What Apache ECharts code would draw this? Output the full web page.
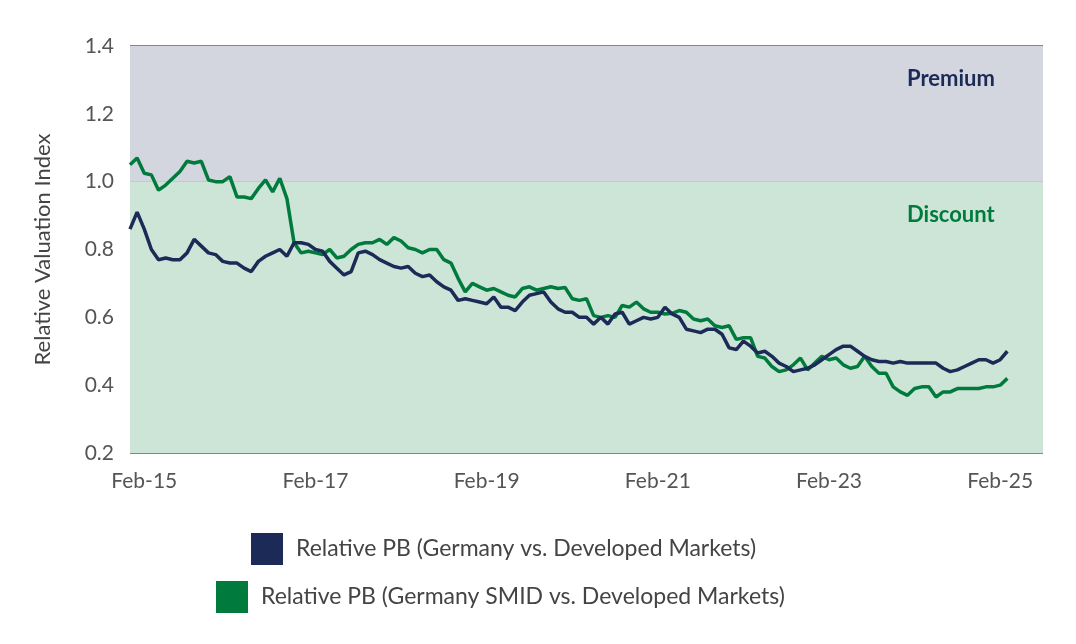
<!DOCTYPE html>
<html>
<head>
<meta charset="utf-8">
<script src="https://cdn.jsdelivr.net/npm/echarts@6/dist/echarts.min.js"></script>
<style>
html, body { margin: 0; padding: 0; background: #fff; }
#main { width: 1076px; height: 644px; }
</style>
</head>
<body>
<div id="main"></div>
<script>
// monthly, Dec-14 .. Mar-25 (data), axis runs on to Aug-25
var months = ['Jan','Feb','Mar','Apr','May','Jun','Jul','Aug','Sep','Oct','Nov','Dec'];
var categories = [];
for (var k = 11; k < 11 + 129; k++) {
  var yr = 14 + Math.floor(k / 12);
  categories.push(months[k % 12] + '-' + yr);
}

var germany = [
  0.86, 0.91, 0.86, 0.80, 0.77, 0.775, 0.77, 0.77, 0.79, 0.83, 0.81, 0.79,
  0.785, 0.765, 0.76, 0.76, 0.745, 0.735, 0.765, 0.78, 0.79, 0.80, 0.78, 0.82,
  0.82, 0.815, 0.80, 0.795, 0.765, 0.745, 0.725, 0.735, 0.79, 0.795, 0.785, 0.77,
  0.76, 0.75, 0.745, 0.75, 0.73, 0.72, 0.725, 0.705, 0.69, 0.68, 0.65, 0.655,
  0.65, 0.645, 0.64, 0.66, 0.63, 0.63, 0.62, 0.645, 0.665, 0.67, 0.675, 0.645,
  0.625, 0.615, 0.615, 0.60, 0.60, 0.58, 0.60, 0.58, 0.61, 0.615, 0.58, 0.59,
  0.60, 0.595, 0.60, 0.63, 0.61, 0.60, 0.565, 0.56, 0.555, 0.565, 0.565, 0.55,
  0.51, 0.505, 0.53, 0.515, 0.495, 0.50, 0.485, 0.465, 0.455, 0.44, 0.445, 0.45,
  0.46, 0.475, 0.49, 0.505, 0.515, 0.515, 0.50, 0.485, 0.475, 0.47, 0.47, 0.465,
  0.47, 0.465, 0.465, 0.465, 0.465, 0.465, 0.45, 0.44, 0.445, 0.455, 0.465, 0.475,
  0.475, 0.465, 0.475, 0.50
];

var germanySmid = [
  1.05, 1.07, 1.025, 1.02, 0.975, 0.99, 1.01, 1.03, 1.06, 1.055, 1.06, 1.005,
  1.0, 1.0, 1.015, 0.955, 0.955, 0.95, 0.98, 1.005, 0.97, 1.01, 0.95, 0.82,
  0.79, 0.795, 0.79, 0.785, 0.80, 0.775, 0.78, 0.80, 0.815, 0.82, 0.82, 0.83,
  0.815, 0.835, 0.825, 0.805, 0.80, 0.79, 0.80, 0.80, 0.77, 0.76, 0.715, 0.675,
  0.70, 0.69, 0.68, 0.685, 0.675, 0.665, 0.66, 0.685, 0.69, 0.68, 0.685, 0.69,
  0.685, 0.688, 0.655, 0.65, 0.655, 0.605, 0.60, 0.605, 0.60, 0.635, 0.63, 0.645,
  0.625, 0.615, 0.615, 0.61, 0.612, 0.62, 0.615, 0.595, 0.59, 0.595, 0.575, 0.57,
  0.575, 0.535, 0.54, 0.54, 0.485, 0.48, 0.455, 0.44, 0.445, 0.46, 0.48, 0.445,
  0.465, 0.485, 0.475, 0.48, 0.46, 0.45, 0.455, 0.485, 0.455, 0.435, 0.435, 0.395,
  0.38, 0.37, 0.39, 0.395, 0.395, 0.365, 0.38, 0.38, 0.39, 0.39, 0.39, 0.39,
  0.395, 0.395, 0.40, 0.42
];

var yTicks = [0.2, 1.4, 0.2]; // min, max, interval

var myChart = echarts.init(document.getElementById('main'));
var textColor = '#555';

var option = {
  animation: false,
  grid: { left: 130, right: 33, top: 46, bottom: 191 },
  legend: [{
    data: ['Relative PB (Germany vs. Developed Markets)'],
    top: 528, left: 246, icon: 'rect', itemWidth: 32, itemHeight: 32, itemGap: 18,
    textStyle: { fontSize: 23, color: '#444', fontFamily: 'Lato', padding: [0, 0, 0, 8] }
  }, {
    data: ['Relative PB (Germany SMID vs. Developed Markets)'],
    top: 576, left: 211, icon: 'rect', itemWidth: 32, itemHeight: 32,
    textStyle: { fontSize: 23, color: '#444', fontFamily: 'Lato', padding: [0, 0, 0, 8] }
  }],
  xAxis: {
    type: 'category',
    data: categories,
    boundaryGap: false,
    axisLine: { show: false },
    axisTick: { show: false },
    axisLabel: {
      color: textColor, fontSize: 21, fontFamily: 'Lato', margin: 18,
      interval: function (i, v) { return v.indexOf('Feb-') === 0 && (+v.slice(4)) % 2 === 1; }
    },
    splitLine: { show: false }
  },
  yAxis: {
    type: 'value',
    min: yTicks[0], max: yTicks[1], interval: yTicks[2],
    name: 'Relative Valuation Index',
    nameLocation: 'middle', nameGap: 76, nameRotate: 90,
    nameTextStyle: { color: '#444', fontSize: 22, fontFamily: 'Lato' },
    axisLabel: { color: textColor, fontSize: 21, fontFamily: 'Lato', margin: 16,
      formatter: function (v) { return v.toFixed(1); } },
    axisLine: { show: false },
    axisTick: { show: false },
    splitLine: { lineStyle: { color: '#7f8793', width: 2 } }
  },
  series: [{
    name: 'Relative PB (Germany vs. Developed Markets)',
    type: 'line',
    data: germany,
    symbol: 'none',
    z: 4,
    itemStyle: { color: '#1b2a56' },
    lineStyle: { color: '#1b2a56', width: 3.5 },
    markArea: {
      silent: true,
      data: [
        [{ yAxis: 1.0, itemStyle: { color: '#d3d5df' } }, { yAxis: 1.4 }],
        [{ yAxis: 0.2, itemStyle: { color: '#cde5d7' } }, { yAxis: 1.0 }]
      ]
    }
  }, {
    name: 'Relative PB (Germany SMID vs. Developed Markets)',
    type: 'line',
    data: germanySmid,
    symbol: 'none',
    z: 3,
    itemStyle: { color: '#007a3d' },
    lineStyle: { color: '#007a3d', width: 3.5 }
  }],
  graphic: [{
    type: 'text', left: 907, top: 68, z: 100,
    style: { text: 'Premium', fill: '#1b2a56', fontSize: 22, fontWeight: 'bold', fontFamily: 'Lato' }
  }, {
    type: 'text', left: 907, top: 204, z: 100,
    style: { text: 'Discount', fill: '#007a3d', fontSize: 22, fontWeight: 'bold', fontFamily: 'Lato' }
  }]
};

myChart.setOption(option);
</script>
</body>
</html>
